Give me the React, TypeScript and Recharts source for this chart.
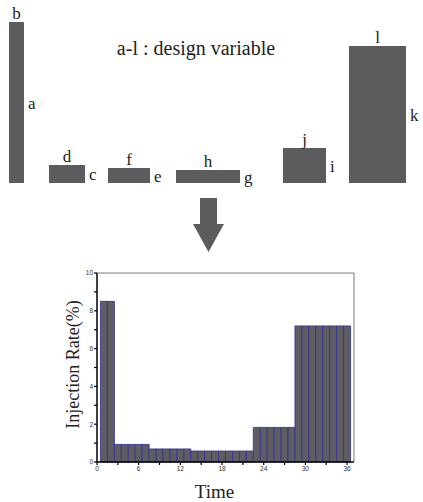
import React from 'react';
import {
  BarChart, Bar, XAxis, YAxis, ReferenceLine, ReferenceArea, ComposedChart, Label,
} from 'recharts';

// schematic blocks (top): start, width, height, labels
const blockStart = [9, 49, 108, 176, 283, 349];
const blockWidth = [15, 36, 42, 64, 43, 57];
const blockHeight = [161, 18, 15, 13, 35, 137];
const topLabels = ['b', 'd', 'f', 'h', 'j', 'l'];
const sideLabels = ['a', 'c', 'e', 'g', 'i', 'k'];

// injection profile (bottom)
const times = [
  1, 2, 3, 4, 5, 6, 7, 8, 9, 10, 11, 12, 13, 14, 15, 16, 17, 18,
  19, 20, 21, 22, 23, 24, 25, 26, 27, 28, 29, 30, 31, 32, 33, 34, 35, 36,
];
const rates = [
  8.5, 8.5,
  0.93, 0.93, 0.93, 0.93, 0.93,
  0.69, 0.69, 0.69, 0.69, 0.69, 0.69,
  0.58, 0.58, 0.58, 0.58, 0.58, 0.58, 0.58, 0.58, 0.58,
  1.83, 1.83, 1.83, 1.83, 1.83, 1.83,
  7.2, 7.2, 7.2, 7.2, 7.2, 7.2, 7.2, 7.2,
];
const xTicks = [0, 3, 6, 9, 12, 15, 18, 21, 24, 27, 30, 33, 36];
const yTicks = [0, 1, 2, 3, 4, 5, 6, 7, 8, 9, 10];

const serif = '"Liberation Serif", "Times New Roman", serif';
const sans = '"Liberation Sans", Arial, sans-serif';
const GRAY = '#5c5c5e';

const blocks = blockStart.map((x0, i) => ({
  x0, x1: x0 + blockWidth[i], h: blockHeight[i], top: topLabels[i], side: sideLabels[i],
}));
const profile = times.map((t, i) => ({time: t, rate: rates[i]}));

const letterStyle = {fontFamily: serif, fontSize: 17, fill: '#222'};

const Schematic = () => (
  <ComposedChart width={423} height={197} data={blocks} margin={{top: 0, right: 0, left: 0, bottom: 14}}>
    <XAxis type="number" dataKey="x0" domain={[0, 423]} allowDataOverflow hide />
    <YAxis type="number" dataKey="h" domain={[0, 183]} allowDataOverflow hide />
    {blocks.map((b) => (
      <ReferenceArea
        key={b.top}
        x1={b.x0}
        x2={b.x1}
        y1={0}
        y2={b.h}
        fill={GRAY}
        fillOpacity={1}
        stroke="none"
        ifOverflow="visible"
      >
        <Label value={b.top} position="top" offset={3} style={letterStyle} />
        <Label value={b.side} position="right" offset={4} style={letterStyle} />
      </ReferenceArea>
    ))}
  </ComposedChart>
);

const tickStyle = {fontFamily: sans, fontSize: 6.5, fill: '#333'};

export default function App() {
  return (
    <div style={{position: 'absolute', left: 0, top: 0, width: 423, height: 502, background: '#fff'}}>
      <div style={{position: 'absolute', left: 0, top: 0}}>
        <Schematic />
      </div>
      <svg width={423} height={260} style={{position: 'absolute', left: 0, top: 0, pointerEvents: 'none'}}>
        <text x={196} y={55} textAnchor="middle" fontFamily={serif} fontSize={20} fill="#222">
          a-l : design variable
        </text>
        <polygon
          points="200,198 217,198 217,224 224,224 208.5,252 193,224 200,224"
          fill={GRAY}
        />
      </svg>
      <div style={{position: 'absolute', left: 0, top: 260}}>
        <BarChart
          width={423}
          height={242}
          data={profile}
          margin={{top: 13, right: 69, left: 57, bottom: 0}}
          barCategoryGap={0}
        >
          <XAxis
            type="number"
            dataKey="time"
            domain={[0, 37]}
            ticks={xTicks}
            tickFormatter={(v) => (v % 6 === 0 ? String(v) : '')}
            tick={tickStyle}
            tickSize={3}
            tickMargin={1}
            height={40}
            axisLine={{stroke: '#000', strokeWidth: 1.5}}
            tickLine={{stroke: '#000', strokeWidth: 1.2}}
            allowDataOverflow
          >
            <Label
              content={({viewBox}: any) => (
                <text
                  x={viewBox.x + viewBox.width / 2 - 11}
                  y={viewBox.y + viewBox.height - 4}
                  textAnchor="middle"
                  fontFamily={serif}
                  fontSize={19}
                  fill="#222"
                >
                  Time
                </text>
              )}
            />
          </XAxis>
          <YAxis
            type="number"
            domain={[0, 10]}
            ticks={yTicks}
            tickFormatter={(v) => (v % 2 === 0 ? String(v) : '')}
            tick={tickStyle}
            tickSize={3}
            tickMargin={1}
            width={40}
            axisLine={{stroke: '#000', strokeWidth: 1.5}}
            tickLine={{stroke: '#000', strokeWidth: 1.2}}
          >
            <Label
              content={({viewBox}: any) => {
                const cx = viewBox.x + 16;
                const cy = viewBox.y + viewBox.height / 2 - 3;
                return (
                  <text
                    x={cx}
                    y={cy}
                    transform={`rotate(-90 ${cx} ${cy})`}
                    textAnchor="middle"
                    dominantBaseline="central"
                    fontFamily={serif}
                    fontSize={18}
                    fill="#222"
                  >
                    Injection Rate(%)
                  </text>
                );
              }}
            />
          </YAxis>
          <ReferenceLine y={10} stroke="#777" strokeWidth={1} ifOverflow="visible" />
          <ReferenceLine x={37} stroke="#777" strokeWidth={1} ifOverflow="visible" />
          <Bar
            dataKey="rate"
            fill="#5e5e62"
            stroke="#2e2e9a"
            strokeWidth={0.8}
            isAnimationActive={false}
          />
        </BarChart>
      </div>
    </div>
  );
}
